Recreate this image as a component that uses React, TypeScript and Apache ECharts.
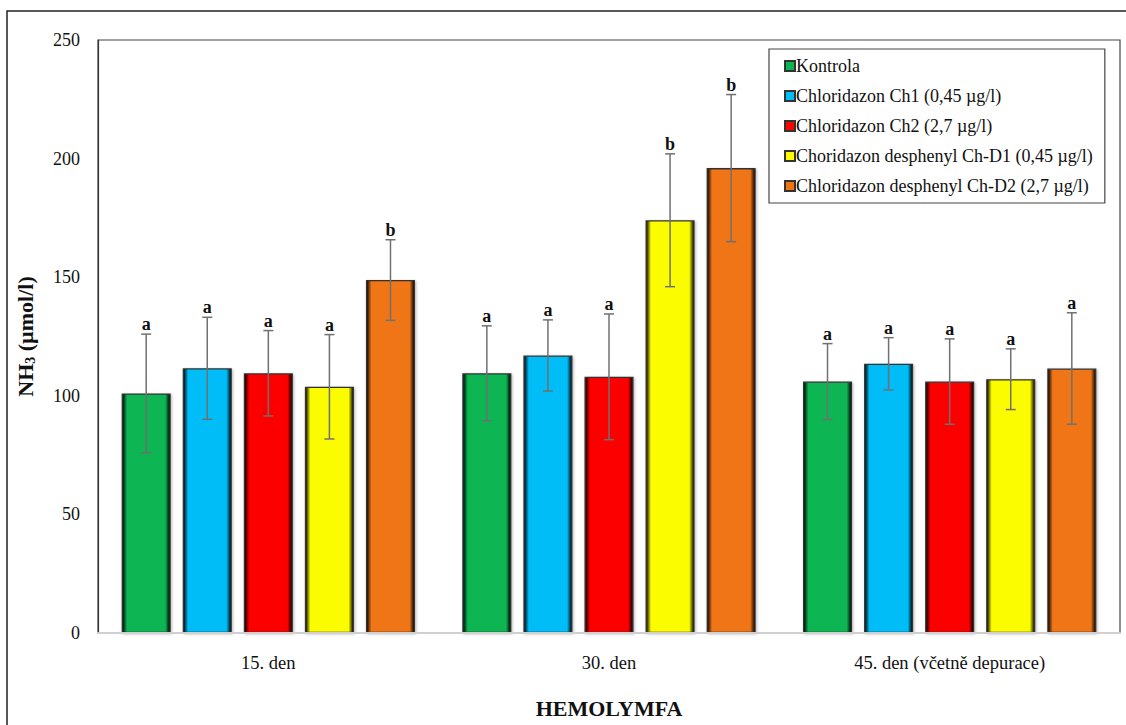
import React, { useEffect, useRef } from "react";
import * as echarts from "echarts";

const categories = ["15. den", "30. den", "45. den (včetně depurace)"];
const seriesNames = [
  "Kontrola",
  "Chloridazon Ch1 (0,45 µg/l)",
  "Chloridazon Ch2 (2,7 µg/l)",
  "Choridazon desphenyl Ch-D1 (0,45 µg/l)",
  "Chloridazon desphenyl Ch-D2 (2,7 µg/l)",
];
const colors = ["#0bb552", "#00bdf8", "#fc0404", "#fcfc00", "#ef7513"];
const kontrola = [101, 109.5, 106];
const ch1 = [111.6, 117, 113.5];
const ch2 = [109.5, 108, 106];
const chd1 = [103.8, 174, 107];
const chd2 = [148.8, 196, 111.5];
const errKontrola = [25, 20, 16];
const errCh1 = [21.5, 15, 11];
const errCh2 = [18, 26.5, 18];
const errChd1 = [22, 28, 12.8];
const errChd2 = [17, 31, 23.5];
const lettersKontrola = ["a", "a", "a"];
const lettersCh1 = ["a", "a", "a"];
const lettersCh2 = ["a", "a", "a"];
const lettersChd1 = ["a", "b", "a"];
const lettersChd2 = ["b", "b", "a"];

const values = [kontrola, ch1, ch2, chd1, chd2];
const errors = [errKontrola, errCh1, errCh2, errChd1, errChd2];
const letters = [lettersKontrola, lettersCh1, lettersCh2, lettersChd1, lettersChd2];

const BAR_FRAC = 0.144;
const GAP_FRAC = 0.245;
const FONT = "Liberation Serif";

export default function App() {
  const ref = useRef<HTMLDivElement>(null);
  useEffect(() => {
    if (!ref.current) return;
    const chart = echarts.init(ref.current, undefined, { renderer: "svg" });
    const n = seriesNames.length;
    const barSeries = seriesNames.map((name, i) => ({
      name,
      type: "bar",
      data: values[i],
      barWidth: BAR_FRAC * 100 + "%",
      barGap: GAP_FRAC * 100 + "%",
      itemStyle: {
        color: {
          type: "linear",
          x: 0, y: 0, x2: 1, y2: 0,
          colorStops: [
            { offset: 0, color: echarts.color.modifyHSL(colors[i], undefined, undefined, -0.08) as string },
            { offset: 0.1, color: colors[i] },
            { offset: 0.9, color: colors[i] },
            { offset: 1, color: echarts.color.modifyHSL(colors[i], undefined, undefined, -0.1) as string },
          ],
        },
        borderColor: "#333",
        borderWidth: 1.3,
        shadowColor: "rgba(0,0,0,0.3)",
        shadowBlur: 3,
        shadowOffsetX: 1,
        shadowOffsetY: 1,
      },
      z: 2,
    }));
    const errSeries = seriesNames.map((name, i) => ({
      name: name + "-err",
      type: "custom",
      z: 5,
      data: values[i].map((v, j) => [j, v, errors[i][j]]),
      renderItem: (params: any, api: any) => {
        const cat = api.value(0);
        const v = api.value(1);
        const e = api.value(2);
        const catW = api.size([1, 0])[0];
        const bw = catW * BAR_FRAC;
        const gap = bw * GAP_FRAC;
        const groupW = n * bw + (n - 1) * gap;
        const center = api.coord([cat, 0])[0];
        const x = center - groupW / 2 + i * (bw + gap) + bw / 2;
        const yTop = api.coord([cat, v + e])[1];
        const yBot = api.coord([cat, v - e])[1];
        const lineStyle = { stroke: "#707070", lineWidth: 1.5 };
        return {
          type: "group",
          children: [
            { type: "line", shape: { x1: x, y1: yTop, x2: x, y2: yBot }, style: lineStyle },
            { type: "line", shape: { x1: x - 5, y1: yTop, x2: x + 5, y2: yTop }, style: lineStyle },
            { type: "line", shape: { x1: x - 5, y1: yBot, x2: x + 5, y2: yBot }, style: lineStyle },
            {
              type: "text",
              x: x,
              y: yTop - 1,
              style: {
                text: letters[i][cat],
                fontFamily: FONT,
                fontWeight: "bold",
                fontSize: 18,
                fill: "#111",
                align: "center",
                verticalAlign: "bottom",
              },
            },
          ],
        };
      },
    }));
    chart.setOption({
      animation: false,
      backgroundColor: "#fff",
      textStyle: { fontFamily: FONT },
      graphic: [
        {
          type: "rect",
          shape: { x: 7, y: 11, width: 1200, height: 800 },
          style: { fill: "none", stroke: "#222", lineWidth: 1.5 },
          silent: true,
        },
      ],
      grid: { left: 98, top: 40, right: 6, bottom: 92, show: true, borderColor: "#444", borderWidth: 1.2 },
      legend: {
        data: seriesNames,
        orient: "vertical",
        left: 769,
        top: 49,
        icon: "rect",
        itemWidth: 10,
        itemHeight: 10,
        itemGap: 12,
        padding: [8, 12, 8, 15],
        borderColor: "#444",
        borderWidth: 1.2,
        backgroundColor: "#fff",
        textStyle: { fontFamily: FONT, fontSize: 18, color: "#111", padding: [0, 0, 0, -4] },
      },
      xAxis: {
        type: "category",
        data: categories,
        axisLine: { show: true, lineStyle: { color: "#d0d0d0", width: 2 } },
        axisTick: { show: false },
        axisLabel: { fontFamily: FONT, fontSize: 18.5, color: "#111", margin: 20 },
        name: "HEMOLYMFA",
        nameLocation: "middle",
        nameGap: 64,
        nameTextStyle: { fontFamily: FONT, fontSize: 22, fontWeight: "bold", color: "#111" },
        z: 10,
      },
      yAxis: {
        type: "value",
        min: 0,
        max: 250,
        interval: 50,
        splitLine: { show: false },
        axisLine: { show: true, lineStyle: { color: "#333", width: 1.2 } },
        axisTick: { show: false },
        axisLabel: { fontFamily: FONT, fontSize: 18, color: "#111", margin: 18 },
        name: "{b|NH}{s|3}{b| (µmol/l)}",
        nameLocation: "middle",
        nameRotate: 90,
        nameGap: 61,
        nameTextStyle: {
          rich: {
            b: { fontFamily: FONT, fontSize: 22, fontWeight: "bold", color: "#111", lineHeight: 24 },
            s: { fontFamily: FONT, fontSize: 14, fontWeight: "bold", color: "#111", lineHeight: 10, verticalAlign: "bottom" },
          },
        },
      },
      series: [...barSeries, ...errSeries],
    });
    return () => chart.dispose();
  }, []);
  return <div ref={ref} style={{ position: "fixed", left: 0, top: 0, width: 1126, height: 725 }} />;
}
